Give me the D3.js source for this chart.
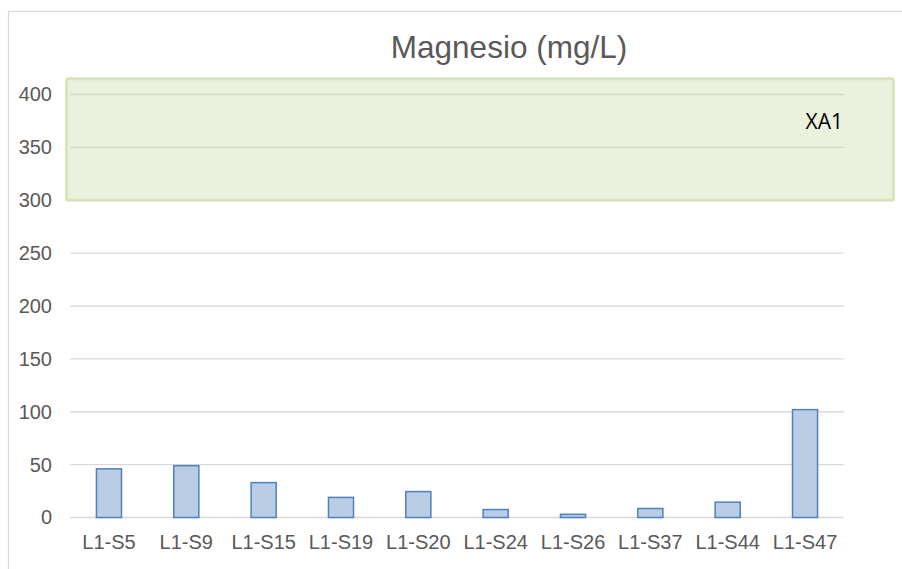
<!DOCTYPE html>
<html>
<head>
<meta charset="utf-8">
<script src="https://cdn.jsdelivr.net/npm/d3@7"></script>
<style>
  html, body { margin: 0; padding: 0; background: #ffffff; }
  svg { display: block; }
</style>
</head>
<body>
<svg id="chart" width="902" height="569"></svg>
<script>
const categories = ["L1-S5","L1-S9","L1-S15","L1-S19","L1-S20","L1-S24","L1-S26","L1-S37","L1-S44","L1-S47"];
const values = [46, 49, 33, 19, 24.5, 7.5, 3, 8.5, 14.5, 102];
const yTicks = [0, 50, 100, 150, 200, 250, 300, 350, 400];
const zoneRange = [300, 415];
const zoneLabel = "XA1";
const title = "Magnesio (mg/L)";

const svg = d3.select("#chart");
const W = 902, H = 569;

// chart frame
svg.append("rect")
  .attr("x", 8.5).attr("y", 11.5)
  .attr("width", W + 20).attr("height", H + 20)
  .attr("fill", "#ffffff").attr("stroke", "#d9d9d9").attr("stroke-width", 1.2);

const plot = { left: 70.3, right: 843.7, top: 94.5, bottom: 517.5 };

const x = d3.scaleBand().domain(categories).range([plot.left, plot.right]).paddingInner(0.676).paddingOuter(0.338);
const y = d3.scaleLinear().domain([0, 400]).range([plot.bottom, plot.top]);

// gridlines
svg.append("g").selectAll("line").data(yTicks).join("line")
  .attr("x1", plot.left).attr("x2", plot.right)
  .attr("y1", d => y(d)).attr("y2", d => y(d))
  .attr("stroke", "#d9d9d9").attr("stroke-width", 1.3);

// y axis labels
const yAxis = d3.axisLeft(y).tickValues(yTicks).tickSize(0).tickPadding(0);
const gy = svg.append("g").attr("transform", `translate(52,0)`).call(yAxis);
gy.select(".domain").remove();
gy.selectAll("text")
  .attr("fill", "#595959")
  .style("font-family", "'Liberation Sans', Arial, sans-serif")
  .style("font-size", "20px");

// bars
svg.append("g").selectAll("rect").data(categories).join("rect")
  .attr("x", d => x(d))
  .attr("width", x.bandwidth())
  .attr("y", (d, i) => y(values[i]))
  .attr("height", (d, i) => y(0) - y(values[i]))
  .attr("fill", "#b9cde5")
  .attr("stroke", "#4f81bd")
  .attr("stroke-width", 1.5);

// x axis labels
const xAxis = d3.axisBottom(x).tickSize(0).tickPadding(0);
const gx = svg.append("g").attr("transform", `translate(0,${plot.bottom + 17})`).call(xAxis);
gx.select(".domain").remove();
gx.selectAll("text")
  .attr("fill", "#595959")
  .style("font-family", "'Liberation Sans', Arial, sans-serif")
  .style("font-size", "20px");

// zone box
svg.append("rect")
  .attr("x", 66.5)
  .attr("y", y(zoneRange[1]))
  .attr("width", 827)
  .attr("height", y(zoneRange[0]) - y(zoneRange[1]))
  .attr("rx", 2)
  .attr("fill", "#c3d69b").attr("fill-opacity", 0.35)
  .attr("stroke", "#d7e4bd").attr("stroke-width", 3);

svg.append("text")
  .attr("x", 843).attr("y", 129)
  .attr("text-anchor", "end")
  .attr("fill", "#000000")
  .style("font-family", "'Open Sans', sans-serif")
  .style("font-size", "21px")
  .text(zoneLabel);

// title
svg.append("text")
  .attr("x", 509).attr("y", 57.5)
  .attr("text-anchor", "middle")
  .attr("fill", "#595959")
  .style("font-family", "'Liberation Sans', Arial, sans-serif")
  .style("font-size", "31.5px")
  .text(title);
</script>
</body>
</html>
